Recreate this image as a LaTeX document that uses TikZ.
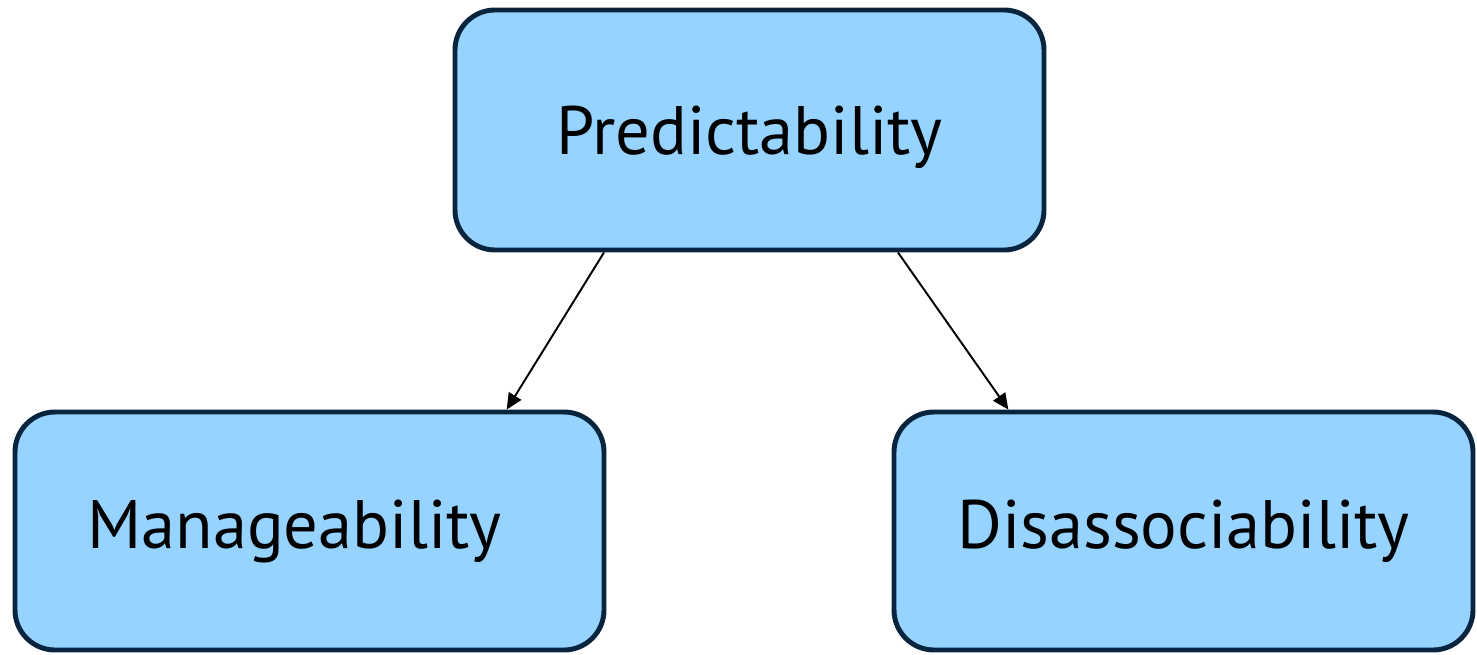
\documentclass[tikz,border=0pt]{standalone}
\usepackage{fontspec}
\setmainfont{PT Sans}
\usetikzlibrary{arrows.meta, calc}
\definecolor{boxfill}{RGB}{150,211,255}
\definecolor{boxline}{RGB}{8,36,62}
\tikzset{
  box/.style  = {draw=boxline, line width=2.8pt, rounded corners=0.8cm, align=center,
                 minimum width=11.78cm, minimum height=4.8cm, fill=boxfill,
                 font=\fontsize{39}{46}\selectfont, inner sep=0pt},
  sig/.style  = {-{Triangle[length=3.2mm, width=2.9mm]}, line width=1.1pt},
}

\begin{document}
\begin{tikzpicture}
  \useasboundingbox (0,0) rectangle (29.54,-13.08);
  \node[box, text height=1.25cm] (pred) at (14.99,-2.60) {Predictability};
  \node[box, minimum height=4.76cm] (manage) at (6.19,-10.62) {Manageability\hspace*{0.6cm}};
  \node[box, minimum width=11.58cm, minimum height=4.76cm] (disassoc) at (23.67,-10.62) {Disassociability};

  \draw[sig] ($(pred.south west)!0.255!(pred.south east)$) -- ($(manage.north west)!0.832!(manage.north east)$);
  \draw[sig] ($(pred.south west)!0.75!(pred.south east)$) -- ($(disassoc.north west)!0.20!(disassoc.north east)$);
\end{tikzpicture}
\end{document}
